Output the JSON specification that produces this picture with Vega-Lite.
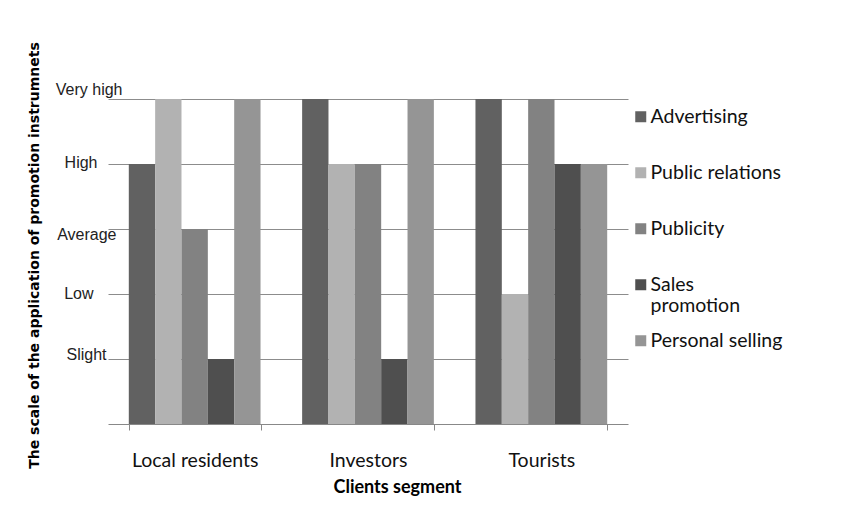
{
  "$schema": "https://vega.github.io/schema/vega-lite/v6.json",
  "width": 520,
  "height": 325,
  "autosize": {"type": "none"},
  "padding": {"left": 108, "top": 99, "right": 238, "bottom": 81},
  "background": "white",
  "config": {"view": {"stroke": null}},
  "data": {
    "values": [
      {"segment": "Local residents", "instrument": "Advertising", "level": 4},
      {"segment": "Local residents", "instrument": "Public relations", "level": 5},
      {"segment": "Local residents", "instrument": "Publicity", "level": 3},
      {"segment": "Local residents", "instrument": "Sales promotion", "level": 1},
      {"segment": "Local residents", "instrument": "Personal selling", "level": 5},
      {"segment": "Investors", "instrument": "Advertising", "level": 5},
      {"segment": "Investors", "instrument": "Public relations", "level": 4},
      {"segment": "Investors", "instrument": "Publicity", "level": 4},
      {"segment": "Investors", "instrument": "Sales promotion", "level": 1},
      {"segment": "Investors", "instrument": "Personal selling", "level": 5},
      {"segment": "Tourists", "instrument": "Advertising", "level": 5},
      {"segment": "Tourists", "instrument": "Public relations", "level": 2},
      {"segment": "Tourists", "instrument": "Publicity", "level": 5},
      {"segment": "Tourists", "instrument": "Sales promotion", "level": 4},
      {"segment": "Tourists", "instrument": "Personal selling", "level": 4}
    ]
  },
  "mark": {"type": "bar"},
  "encoding": {
    "x": {
      "field": "segment",
      "type": "nominal",
      "sort": ["Local residents", "Investors", "Tourists"],
      "scale": {"paddingInner": 0.24, "paddingOuter": 0.12},
      "axis": {
        "title": "Clients segment",
        "titleFont": "Lato",
        "titleFontSize": 18,
        "titleFontWeight": "bold",
        "titleColor": "black",
        "titleX": 289,
        "titleY": 63,
        "titleAlign": "center",
        "titleBaseline": "middle",
        "labelAngle": 0,
        "labelFont": "Lato",
        "labelFontSize": 19.5,
        "labelColor": "#111111",
        "labelPadding": 21,
        "tickBand": "extent",
        "tickSize": 6,
        "tickColor": "#888888",
        "domainColor": "#888888",
        "grid": false
      }
    },
    "xOffset": {
      "field": "instrument",
      "type": "nominal",
      "sort": ["Advertising", "Public relations", "Publicity", "Sales promotion", "Personal selling"],
      "scale": {"paddingInner": 0, "paddingOuter": 0}
    },
    "y": {
      "field": "level",
      "type": "quantitative",
      "scale": {"domain": [0, 5], "nice": false},
      "axis": {
        "title": "The scale of the application of promotion instrumnets",
        "titleFont": "DejaVu Sans",
        "titleFontSize": 14,
        "titleFontWeight": "bold",
        "titleColor": "black",
        "titleAngle": -90,
        "titleAlign": "center",
        "titleBaseline": "middle",
        "titleX": -74,
        "titleY": 156,
        "values": [1, 2, 3, 4, 5],
        "labelExpr": "['', 'Slight', 'Low', 'Average', 'High', 'Very high'][datum.value]",
        "labelFont": "Liberation Sans",
        "labelFontSize": 16,
        "labelColor": "#222222",
        "labelPadding": {"expr": "datum.value == 5 ? -14 : datum.value == 4 ? 11 : datum.value == 3 ? -8 : datum.value == 2 ? 15 : 2"},
        "labelOffset": {"expr": "datum.value == 5 ? -9.5 : datum.value == 4 ? -1.5 : datum.value == 3 ? 5 : datum.value == 2 ? -1 : -5"},
        "labelBound": false,
        "labelOverlap": false,
        "ticks": false,
        "domain": false,
        "grid": true,
        "gridColor": "#8c8c8c",
        "gridWidth": 1
      }
    },
    "color": {
      "field": "instrument",
      "type": "nominal",
      "sort": ["Advertising", "Public relations", "Publicity", "Sales promotion", "Personal selling"],
      "scale": {
        "domain": ["Advertising", "Public relations", "Publicity", "Sales promotion", "Personal selling"],
        "range": ["#616161", "#b2b2b2", "#828282", "#4f4f4f", "#959595"]
      },
      "legend": {
        "title": null,
        "orient": "none",
        "legendX": 523,
        "legendY": 8,
        "padding": 0,
        "symbolType": "square",
        "symbolSize": 121,
        "symbolStrokeWidth": 0,
        "labelFont": "Lato",
        "labelFontSize": 19.5,
        "labelColor": "#111111",
        "labelOffset": 0,
        "rowPadding": 14,
        "labelLimit": 300,
        "labelExpr": "datum.label == 'Sales promotion' ? ['Sales', 'promotion'] : [datum.label, '']"
      }
    }
  }
}
